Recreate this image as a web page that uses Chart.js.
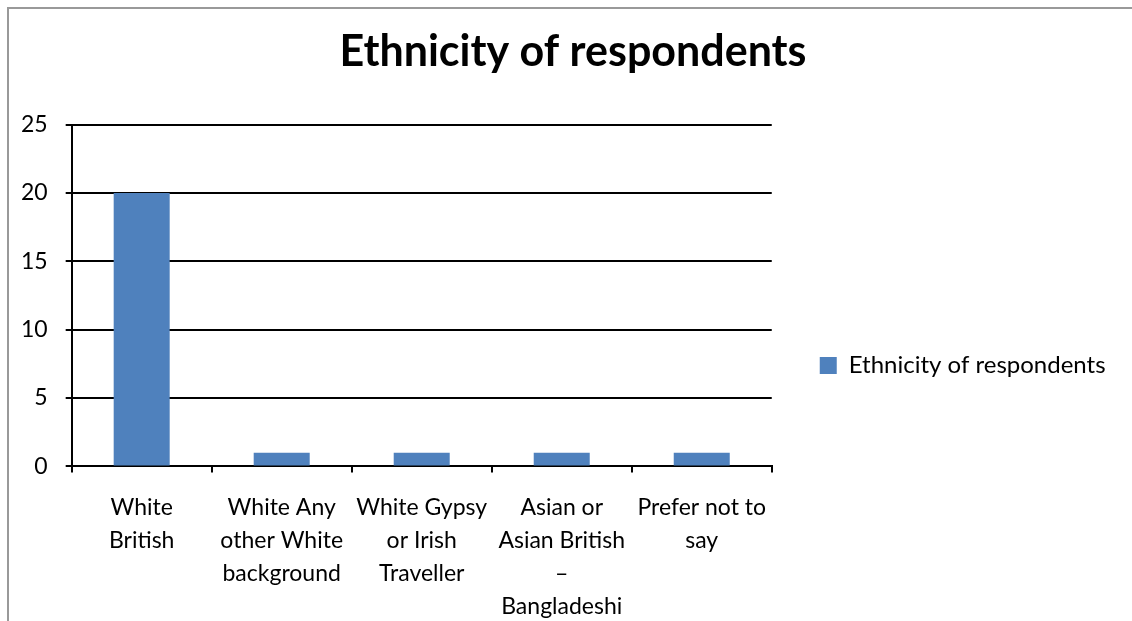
<!DOCTYPE html>
<html>
<head>
<meta charset="utf-8">
<script src="https://cdn.jsdelivr.net/npm/chart.js@4.4.1/dist/chart.umd.min.js"></script>
<style>
  html, body { margin: 0; padding: 0; background: #fff; overflow: hidden; }
  #frame {
    position: absolute; left: 7px; top: 7px;
    width: 1125px; height: 614px;
    border-left: 2px solid #999; border-top: 2px solid #999;
  }
</style>
</head>
<body>
<div id="frame"><canvas id="grafico"></canvas></div>
<script>
const titulo = 'Ethnicity of respondents';
const categorias = [
  ['White', 'British'],
  ['White Any', 'other White', 'background'],
  ['White Gypsy', 'or Irish', 'Traveller'],
  ['Asian or', 'Asian British', '–', 'Bangladeshi'],
  ['Prefer not to', 'say']
];
const respuestas = [20, 1, 1, 1, 1];
const ejeY = { min: 0, max: 25, paso: 5 };

const fuente = 'Lato, "Open Sans", sans-serif';
Chart.defaults.color = '#000';
Chart.defaults.font.family = fuente;

const canvas = document.getElementById('grafico');
canvas.width = 1123;
canvas.height = 612;

// el layout limita el ancho de la leyenda; se ensancha hasta el borde,
// se baja un poco y el título se centra sobre todo el lienzo
const ajusteCajas = {
  id: 'ajusteCajas',
  afterLayout(chart) {
    const ley = chart.legend;
    ley.right = chart.width;
    ley.width = ley.right - ley.left;
    ley.top += 40;
    ley.bottom += 40;
    const tit = chart.titleBlock;
    tit.left = 0;
    tit.right = 1128;
    tit.width = tit.right - tit.left;
  }
};

new Chart(canvas.getContext('2d'), {
  type: 'bar',
  data: {
    labels: categorias,
    datasets: [{
      label: titulo,
      data: respuestas,
      backgroundColor: '#4F81BD',
      barPercentage: 0.4,
      categoryPercentage: 1
    }]
  },
  options: {
    responsive: false,
    animation: false,
    layout: { padding: { left: -6, right: 104, bottom: -21 } },
    plugins: {
      title: {
        display: true,
        text: titulo,
        font: { size: 43, weight: 'bold' },
        padding: { top: 17, bottom: 47 }
      },
      legend: {
        position: 'right',
        labels: {
          boxWidth: 17,
          boxHeight: 17,
          padding: 48,
          font: { size: 24 }
        }
      },
      tooltip: { enabled: false }
    },
    scales: {
      x: {
        offset: true,
        grid: {
          offset: true,
          drawOnChartArea: false,
          color: '#000',
          lineWidth: 2,
          tickLength: 6
        },
        border: { color: '#000', width: 2 },
        ticks: {
          font: { size: 23, lineHeight: 1.43 },
          padding: 19,
          maxRotation: 0,
          autoSkip: false
        }
      },
      y: {
        min: ejeY.min,
        max: ejeY.max,
        grid: { color: '#000', lineWidth: 2, tickLength: 6 },
        border: { color: '#000', width: 2 },
        ticks: { stepSize: ejeY.paso, font: { size: 23 }, padding: 18 }
      }
    }
  },
  plugins: [ajusteCajas]
});
</script>
</body>
</html>
